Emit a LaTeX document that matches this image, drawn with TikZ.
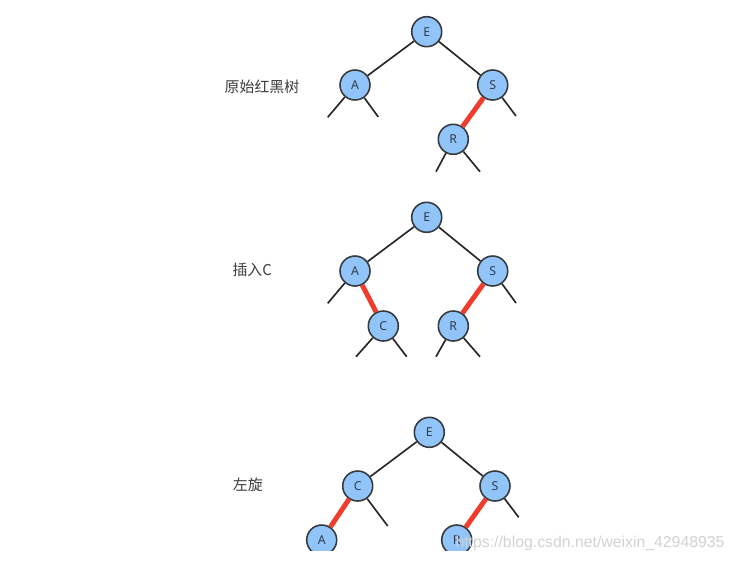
\documentclass[tikz,border=0pt]{standalone}
\usepackage{fontspec}
\setmainfont{Noto Sans}
\newfontfamily\cjk{Noto Sans CJK SC}
\newfontfamily\marcafont{Liberation Sans}
\definecolor{azulnodo}{RGB}{145,197,250}
\definecolor{borde}{RGB}{55,58,62}
\definecolor{linea}{RGB}{40,40,40}
\definecolor{rojo}{RGB}{240,60,45}
\definecolor{letra}{RGB}{50,60,75}
\definecolor{texto}{RGB}{60,60,60}
\tikzset{
  nodo/.style={circle, draw=borde, fill=azulnodo, line width=0.9pt, minimum size=0.6cm, inner sep=0pt, font=\fontsize{7}{8}\selectfont, text=letra},
  arista/.style={draw=linea, line width=0.95pt},
  roja/.style={draw=rojo, line width=2.8pt},
  etiqueta/.style={font=\cjk\fontsize{8.5}{10}\selectfont, text=texto},
  marca/.style={font=\marcafont\fontsize{9}{10}\selectfont, text=gray!35},
}

\begin{document}
\begin{tikzpicture}[x=0.02cm, y=-0.02cm]
  \useasboundingbox (0,0) rectangle (736,562);
  \begin{scope}
    \clip (0,0) rectangle (736,550);
    % arbol original
    \node[etiqueta] (t1) at (262,86.7) {原始红黑树};
    \node[nodo] (e1) at (426.7,31.7) {E};
    \node[nodo] (a1) at (355,85) {A};
    \node[nodo] (s1) at (492.7,85) {S};
    \node[nodo] (r1) at (453.3,139.3) {R};
    \coordinate (a1l) at (327.7,117.3);
    \coordinate (a1r) at (378.3,117);
    \coordinate (s1r) at (516,116);
    \coordinate (r1l) at (436,171.7);
    \coordinate (r1r) at (480,171.7);
    \draw[arista] (e1) -- (a1);
    \draw[arista] (e1) -- (s1);
    \draw[roja] (s1) -- (r1);
    % insertar C
    \node[etiqueta] (t2) at (252.2,270) {插入C};
    \node[nodo] (e2) at (426.7,217.3) {E};
    \node[nodo] (a2) at (355,271) {A};
    \node[nodo] (s2) at (492.7,271) {S};
    \node[nodo] (c2) at (383.3,326) {C};
    \node[nodo] (r2) at (453.3,326) {R};
    \coordinate (a2l) at (327.7,303.3);
    \coordinate (s2r) at (516,303);
    \coordinate (c2l) at (356,356.7);
    \coordinate (c2r) at (406.7,356.7);
    \coordinate (r2l) at (436,356.7);
    \coordinate (r2r) at (480,356.7);
    \draw[arista] (e2) -- (a2);
    \draw[arista] (e2) -- (s2);
    \draw[roja] (a2) -- (c2);
    \draw[roja] (s2) -- (r2);
    % rotacion izquierda
    \node[etiqueta] (t3) at (247.9,485) {左旋};
    \node[nodo] (e3) at (429.3,432.3) {E};
    \node[nodo] (c3) at (357.7,486) {C};
    \node[nodo] (s3) at (495,486) {S};
    \node[nodo] (a3) at (321.7,540) {A};
    \node[nodo] (r3) at (456.7,540) {R};
    \coordinate (c3r) at (387.7,526);
    \coordinate (s3r) at (518.7,517.3);
    \draw[arista] (e3) -- (c3);
    \draw[arista] (e3) -- (s3);
    \draw[roja] (c3) -- (a3);
    \draw[roja] (s3) -- (r3);
    % hojas
    \foreach \n/\h in {a1/a1l, a1/a1r, s1/s1r, r1/r1l, r1/r1r,
                       a2/a2l, s2/s2r, c2/c2l, c2/c2r, r2/r2l, r2/r2r,
                       c3/c3r, s3/s3r}
      \draw[arista] (\n) -- (\h);
  \end{scope}
  \node[marca] (wm) at (590,543) {https://blog.csdn.net/weixin\_42948935};
\end{tikzpicture}
\end{document}
